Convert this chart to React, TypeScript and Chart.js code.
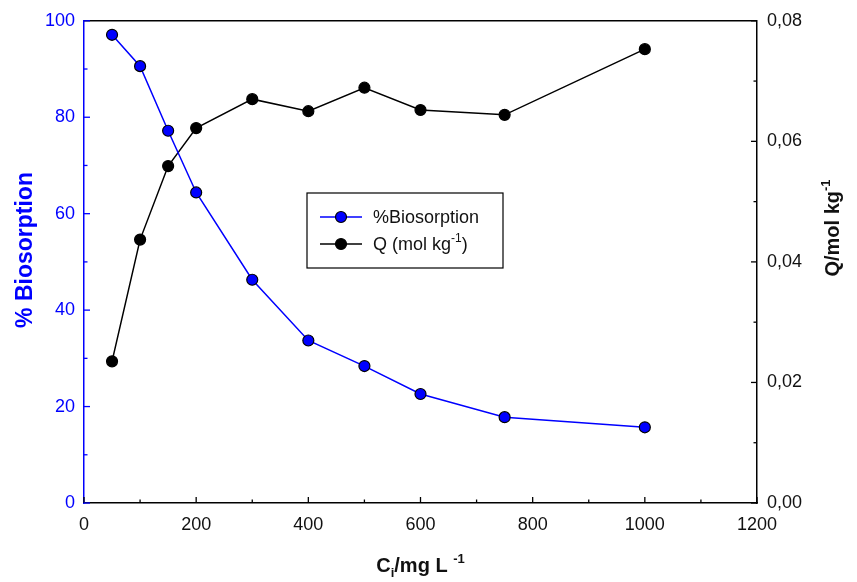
import React, { useEffect, useRef } from "react";
import { Chart, registerables } from "chart.js";

Chart.register(...registerables);

const concentrations = [50, 100, 150, 200, 300, 400, 500, 600, 750, 1000];
const biosorptionPct = [97.1, 90.6, 77.2, 64.4, 46.3, 33.7, 28.4, 22.6, 17.8, 15.7];
const qMolKg = [0.0235, 0.0437, 0.0559, 0.0622, 0.067, 0.065, 0.0689, 0.0652, 0.0644, 0.0753];

const legendLabels = ["%Biosorption", "Q (mol kg", "-1", ")"];

const BLUE = "#0000ff";
const FONT = "'Liberation Sans', Arial, sans-serif";

type Seg = { t: string; k: "n" | "sub" | "sup" };

function drawRich(ctx: CanvasRenderingContext2D, segs: Seg[], size: number, bold: boolean, color: string) {
  const w = bold ? "bold " : "";
  const small = Math.round(size * 0.65);
  let total = 0;
  const widths = segs.map((s) => {
    ctx.font = `${w}${s.k === "n" ? size : small}px ${FONT}`;
    const m = ctx.measureText(s.t).width;
    total += m;
    return m;
  });
  let x = -total / 2;
  ctx.fillStyle = color;
  ctx.textBaseline = "alphabetic";
  ctx.textAlign = "left";
  segs.forEach((s, i) => {
    ctx.font = `${w}${s.k === "n" ? size : small}px ${FONT}`;
    const dy = s.k === "sub" ? size * 0.25 : s.k === "sup" ? -size * 0.45 : 0;
    ctx.fillText(s.t, x, dy);
    x += widths[i];
  });
}

const customPlugin = {
  id: "custom",
  afterDraw(chart: any) {
    const ctx: CanvasRenderingContext2D = chart.ctx;
    const a = chart.chartArea;
    const xs = chart.scales.x;
    const yl = chart.scales.y;
    const yr = chart.scales.y1;
    ctx.save();
    // top border
    ctx.strokeStyle = "#000";
    ctx.lineWidth = 1.5;
    ctx.beginPath();
    ctx.moveTo(a.left, a.top);
    ctx.lineTo(a.right, a.top);
    ctx.stroke();

    const majorLen = 6;
    const minorLen = 3.5;
    const drawTicks = (scale: any, color: string, fn: (p: number, len: number) => void) => {
      ctx.strokeStyle = color;
      ctx.lineWidth = 1.3;
      const vals = scale.ticks.map((t: any) => t.value);
      const step = vals.length > 1 ? vals[1] - vals[0] : 0;
      vals.forEach((v: number, i: number) => {
        fn(scale.getPixelForValue(v), majorLen);
        if (i < vals.length - 1) fn(scale.getPixelForValue(v + step / 2), minorLen);
      });
    };
    drawTicks(xs, "#000", (p, len) => {
      ctx.beginPath();
      ctx.moveTo(p, a.bottom);
      ctx.lineTo(p, a.bottom - len);
      ctx.stroke();
    });
    drawTicks(yl, BLUE, (p, len) => {
      ctx.beginPath();
      ctx.moveTo(a.left, p);
      ctx.lineTo(a.left + len, p);
      ctx.stroke();
    });
    drawTicks(yr, "#000", (p, len) => {
      ctx.beginPath();
      ctx.moveTo(a.right, p);
      ctx.lineTo(a.right - len, p);
      ctx.stroke();
    });

    // axis titles
    ctx.save();
    ctx.translate((a.left + a.right) / 2, 572);
    drawRich(ctx, [
      { t: "C", k: "n" },
      { t: "i", k: "sub" },
      { t: "/mg L ", k: "n" },
      { t: "-1", k: "sup" },
    ], 20, true, "#111");
    ctx.restore();

    ctx.save();
    ctx.translate(32, 250);
    ctx.rotate(-Math.PI / 2);
    drawRich(ctx, [{ t: "% Biosorption", k: "n" }], 23, true, BLUE);
    ctx.restore();

    ctx.save();
    ctx.translate(839, 228);
    ctx.rotate(-Math.PI / 2);
    drawRich(ctx, [
      { t: "Q/mol kg", k: "n" },
      { t: "-1", k: "sup" },
    ], 20, true, "#111");
    ctx.restore();

    // legend
    const bx = 307, by = 193, bw = 196, bh = 75;
    ctx.strokeStyle = "#000";
    ctx.lineWidth = 1.2;
    ctx.strokeRect(bx, by, bw, bh);
    const rows = [
      { y: 217, ds: chart.data.datasets[0], segs: [{ t: legendLabels[0], k: "n" }] as Seg[] },
      {
        y: 244,
        ds: chart.data.datasets[1],
        segs: [
          { t: legendLabels[1], k: "n" },
          { t: legendLabels[2], k: "sup" },
          { t: legendLabels[3], k: "n" },
        ] as Seg[],
      },
    ];
    rows.forEach((r) => {
      ctx.strokeStyle = r.ds.borderColor;
      ctx.lineWidth = 1.5;
      ctx.beginPath();
      ctx.moveTo(320, r.y);
      ctx.lineTo(362, r.y);
      ctx.stroke();
      ctx.beginPath();
      ctx.arc(341, r.y, r.ds.pointRadius, 0, Math.PI * 2);
      ctx.fillStyle = r.ds.pointBackgroundColor;
      ctx.fill();
      ctx.strokeStyle = r.ds.pointBorderColor;
      ctx.lineWidth = r.ds.pointBorderWidth;
      ctx.stroke();
      ctx.save();
      let total = 0;
      r.segs.forEach((s) => {
        ctx.font = `${s.k === "n" ? 18 : 12}px ${FONT}`;
        total += ctx.measureText(s.t).width;
      });
      ctx.translate(373 + total / 2, r.y + 6);
      drawRich(ctx, r.segs, 18, false, "#111");
      ctx.restore();
    });
    ctx.restore();
  },
};

export default function App() {
  const ref = useRef<HTMLCanvasElement | null>(null);
  useEffect(() => {
    document.body.style.margin = "0";
    if (!ref.current) return;
    const chart = new Chart(ref.current, {
      type: "line",
      data: {
        datasets: [
          {
            label: "%Biosorption",
            data: concentrations.map((c, i) => ({ x: c, y: biosorptionPct[i] })),
            yAxisID: "y",
            borderColor: BLUE,
            backgroundColor: BLUE,
            borderWidth: 1.5,
            pointRadius: 5.5,
            pointBackgroundColor: BLUE,
            pointBorderColor: "#000",
            pointBorderWidth: 1.2,
            tension: 0,
          },
          {
            label: "Q (mol kg-1)",
            data: concentrations.map((c, i) => ({ x: c, y: qMolKg[i] })),
            yAxisID: "y1",
            borderColor: "#000",
            backgroundColor: "#000",
            borderWidth: 1.5,
            pointRadius: 5.5,
            pointBackgroundColor: "#000",
            pointBorderColor: "#000",
            pointBorderWidth: 1.2,
            tension: 0,
          },
        ] as any,
      },
      options: {
        animation: false,
        responsive: true,
        maintainAspectRatio: false,
        layout: { padding: { top: 18, left: 0, right: 0, bottom: 0 } },
        plugins: { legend: { display: false }, tooltip: { enabled: false } },
        scales: {
          x: {
            type: "linear",
            min: 0,
            max: 1200,
            ticks: {
              stepSize: 200,
              color: "#111",
              font: { size: 18, family: FONT },
              padding: 11,
              maxRotation: 0,
              callback: (v: any) => String(Math.round(Number(v))),
            },
            grid: { display: true, drawOnChartArea: false, drawTicks: false },
            border: { color: "#000", width: 1.5 },
            afterFit: (s: any) => { s.height = 79; },
          },
          y: {
            type: "linear",
            position: "left",
            min: 0,
            max: 100,
            ticks: { stepSize: 20, color: BLUE, font: { size: 18, family: FONT }, padding: 9 },
            grid: { display: true, drawOnChartArea: false, drawTicks: false },
            border: { color: BLUE, width: 1.5 },
            afterFit: (s: any) => { s.width = 84; },
          },
          y1: {
            type: "linear",
            position: "right",
            min: 0,
            max: 0.08,
            ticks: {
              stepSize: 0.02,
              color: "#111",
              font: { size: 18, family: FONT },
              padding: 10,
              callback: (v: any) => Number(v).toFixed(2).replace(".", ","),
            },
            grid: { display: true, drawOnChartArea: false, drawTicks: false },
            border: { color: "#000", width: 1.5 },
            afterFit: (s: any) => { s.width = 100; },
          },
        },
      } as any,
      plugins: [customPlugin],
    });
    return () => chart.destroy();
  }, []);
  return (
    <div style={{ width: 857, height: 582, position: "relative" }}>
      <canvas ref={ref} />
    </div>
  );
}
